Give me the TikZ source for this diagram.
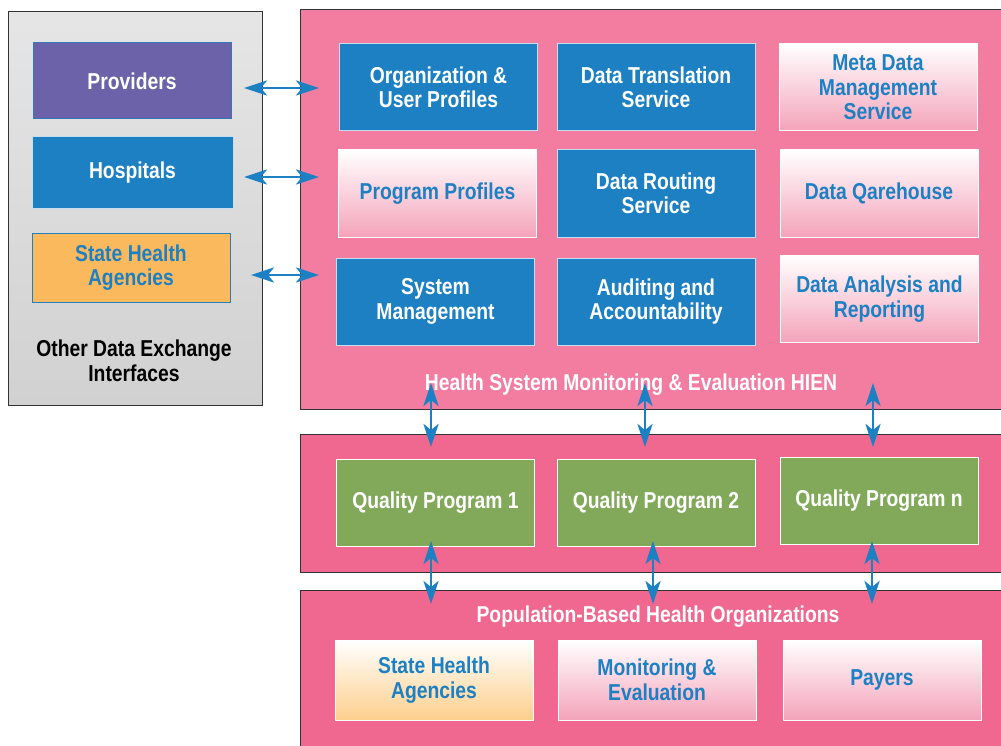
\documentclass[tikz,border=0pt]{standalone}
\usepackage{fontspec}
\setmainfont[FakeStretch=0.84]{Liberation Sans}
\usetikzlibrary{arrows.meta}
\definecolor{hblue}{HTML}{1C80C3}
\definecolor{hpurple}{HTML}{6B62AA}
\definecolor{horange}{HTML}{FBB95D}
\definecolor{hgreen}{HTML}{82A95A}
\definecolor{pinkA}{HTML}{F27DA0}
\definecolor{pinkB}{HTML}{F06890}
\definecolor{gradpink}{HTML}{F4A3BA}
\definecolor{gradorange}{HTML}{FDCF8C}
\definecolor{panelline}{HTML}{333333}
\newcommand{\boxfont}{\fontsize{23}{24.5}\selectfont\bfseries}
\tikzset{
  box/.style={rectangle, inner sep=0pt, align=center, font=\boxfont, line width=1pt,
              minimum width=198pt, minimum height=87pt},
  bluebox/.style={box, fill=hblue, draw=white!75!hblue, text=white},
  pinkgrad/.style={box, top color=white, bottom color=gradpink, draw=white, text=hblue},
  orangegrad/.style={box, top color=white, bottom color=gradorange, draw=white, text=hblue},
  greenbox/.style={box, fill=hgreen, draw=white, text=white},
  panel/.style={draw=panelline, line width=1pt},
  paneltitle/.style={font=\boxfont, text=white, inner sep=0pt},
  dar/.style={{Stealth[length=23pt,width=15pt,inset=6pt]}-{Stealth[length=23pt,width=15pt,inset=6pt]},
              line width=2.8pt, draw=hblue},
}
\begin{document}
\begin{tikzpicture}[x=1pt,y=-1pt]
\useasboundingbox (0,0) rectangle (1001,746);
\fill[white] (0,0) rectangle (1001,746);
% left panel
\path[panel, top color=white!90!black, bottom color=white!82!black] (8,12) rectangle (262,405);
\node[box, fill=hpurple, draw=hblue!70!hpurple, text=white, minimum width=198pt, minimum height=76pt] (prov) at (132,81) {Providers};
\node[bluebox, minimum width=201pt, minimum height=72pt] (hosp) at (132.5,173) {Hospitals};
\node[box, fill=horange, draw=hblue, text=hblue, minimum width=198pt, minimum height=69pt] (sha) at (131,267.5) {State Health\\Agencies};
\node[font=\boxfont, text=black, align=center, inner sep=0pt] (other) at (134,361) {Other Data Exchange\\Interfaces};
% top panel
\path[panel, fill=pinkA] (300,10) rectangle (1010,409);
\node[bluebox] (org) at (438.5,87.5) {Organization \&\\User Profiles};
\node[bluebox] (trans) at (656,87.5) {Data Translation\\Service};
\node[pinkgrad] (meta) at (878,87.5) {Meta Data\\Management\\Service};
\node[pinkgrad] (prog) at (437.5,193.5) {Program Profiles};
\node[bluebox] (route) at (656,193.5) {Data Routing\\Service};
\node[pinkgrad] (ware) at (879,193.5) {Data Qarehouse};
\node[bluebox] (sys) at (435.5,301.5) {System\\Management};
\node[bluebox] (audit) at (656,301.5) {Auditing and\\Accountability};
\node[pinkgrad] (anal) at (879.5,299) {Data Analysis and\\Reporting};
\node[paneltitle] (hien) at (631,384.5) {Health System Monitoring \& Evaluation HIEN};
% middle panel
\path[panel, fill=pinkB] (300,434) rectangle (1010,572);
\node[greenbox] (q1) at (435.5,502.5) {Quality Program 1};
\node[greenbox] (q2) at (656,502.5) {Quality Program 2};
\node[greenbox] (qn) at (879,500.5) {Quality Program n};
% bottom panel
\path[panel, fill=pinkB] (300,590) rectangle (1010,760);
\node[paneltitle] (pop) at (658,616.5) {Population-Based Health Organizations};
\node[orangegrad, minimum height=80pt] (sha2) at (434,680) {State Health\\Agencies};
\node[pinkgrad, minimum height=80pt] (me) at (657,680) {Monitoring \&\\Evaluation};
\node[pinkgrad, minimum height=80pt] (pay) at (882,680) {Payers};
% connector end points
\coordinate (h1a) at (244,88);  \coordinate (h1b) at (319,88);
\coordinate (h2a) at (244,177); \coordinate (h2b) at (319,177);
\coordinate (h3a) at (251,275); \coordinate (h3b) at (319,275);
\coordinate (v1a) at (431,383); \coordinate (v1b) at (431,447);
\coordinate (v2a) at (645,383); \coordinate (v2b) at (645,447);
\coordinate (v3a) at (873,383); \coordinate (v3b) at (873,447);
\coordinate (w1a) at (431,541); \coordinate (w1b) at (431,604);
\coordinate (w2a) at (653,541); \coordinate (w2b) at (653,604);
\coordinate (w3a) at (872,541); \coordinate (w3b) at (872,604);
\draw[dar] (h1a) -- (h1b);
\draw[dar] (h2a) -- (h2b);
\draw[dar] (h3a) -- (h3b);
\draw[dar] (v1a) -- (v1b);
\draw[dar] (v2a) -- (v2b);
\draw[dar] (v3a) -- (v3b);
\draw[dar] (w1a) -- (w1b);
\draw[dar] (w2a) -- (w2b);
\draw[dar] (w3a) -- (w3b);
\end{tikzpicture}
\end{document}
